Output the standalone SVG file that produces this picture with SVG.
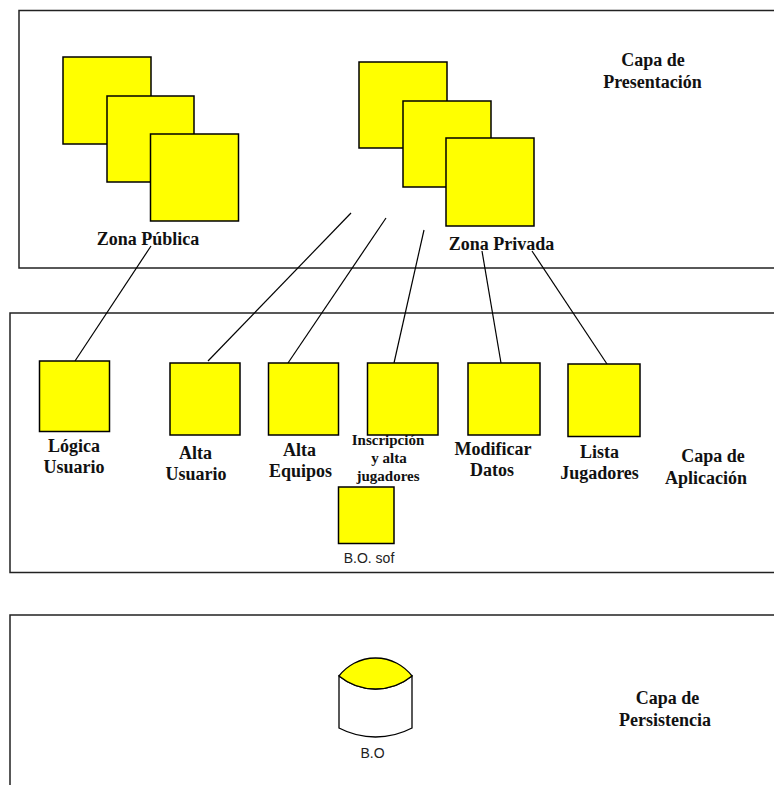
<svg xmlns="http://www.w3.org/2000/svg" width="774" height="785" viewBox="0 0 774 785">
<style>
.layer{fill:none;stroke:#222;stroke-width:1.5}
.box{fill:#ffff00;stroke:#000;stroke-width:1.5}
.lbl{font-family:"Liberation Serif","Times New Roman",serif;font-weight:bold;font-size:18px;fill:#111;text-anchor:middle}
.sm{font-size:15px}
.sans{font-family:"Liberation Sans",Arial,sans-serif;font-size:14px;fill:#222;text-anchor:middle}
.conn{stroke:#000;stroke-width:1.2;fill:none}
</style>
<rect width="774" height="785" fill="#fff"/>
<g id="layers">
<rect class="layer" x="19" y="10.5" width="800" height="257.5"/>
<rect class="layer" x="10" y="313" width="800" height="259.5"/>
<rect class="layer" x="10" y="615" width="800" height="200"/>
</g>
<g id="connectors">
<line class="conn" x1="151" y1="246" x2="75" y2="361"/>
<line class="conn" x1="351" y1="213" x2="208" y2="361"/>
<line class="conn" x1="386" y1="218" x2="288" y2="363"/>
<line class="conn" x1="424" y1="230" x2="394" y2="363"/>
<line class="conn" x1="482" y1="251" x2="501" y2="363"/>
<line class="conn" x1="532" y1="251" x2="607" y2="364"/>
</g>
<g id="zona-publica">
<rect class="box" x="63" y="57" width="88" height="87"/>
<rect class="box" x="107" y="96" width="87" height="86"/>
<rect class="box" x="150.5" y="134" width="88" height="87"/>
<text class="lbl" x="148" y="245">Zona Pública</text>
</g>
<g id="zona-privada">
<rect class="box" x="359" y="62" width="88" height="86"/>
<rect class="box" x="403" y="101" width="88" height="86"/>
<rect class="box" x="446" y="138" width="88" height="88"/>
<text class="lbl" x="501.5" y="249.5">Zona Privada</text>
</g>
<g id="capa-presentacion">
<text class="lbl" x="653" y="66">Capa de</text>
<text class="lbl" x="652.5" y="88">Presentación</text>
</g>
<g id="logica-usuario">
<rect class="box" x="39.5" y="361" width="70" height="70.5"/>
<text class="lbl" x="74" y="452">Lógica</text>
<text class="lbl" x="74" y="473">Usuario</text>
</g>
<g id="alta-usuario">
<rect class="box" x="170" y="363" width="70" height="72"/>
<text class="lbl" x="195.5" y="459">Alta</text>
<text class="lbl" x="196" y="480">Usuario</text>
</g>
<g id="alta-equipos">
<rect class="box" x="268.5" y="363" width="70" height="72"/>
<text class="lbl" x="299.5" y="456">Alta</text>
<text class="lbl" x="300.5" y="477">Equipos</text>
</g>
<g id="inscripcion">
<rect class="box" x="367.5" y="363" width="70.5" height="72"/>
<text class="lbl sm" x="388" y="445">Inscripción</text>
<text class="lbl sm" x="389" y="463">y alta</text>
<text class="lbl sm" x="388" y="481">jugadores</text>
</g>
<g id="modificar-datos">
<rect class="box" x="468" y="363" width="72" height="72"/>
<text class="lbl" x="493" y="455">Modificar</text>
<text class="lbl" x="492" y="476">Datos</text>
</g>
<g id="lista-jugadores">
<rect class="box" x="568" y="364" width="72" height="72.5"/>
<text class="lbl" x="599.5" y="458">Lista</text>
<text class="lbl" x="599.5" y="479">Jugadores</text>
</g>
<g id="bo-sof">
<rect class="box" x="338.5" y="487" width="55.5" height="56.5"/>
<text class="sans" x="369" y="563">B.O. sof</text>
</g>
<g id="capa-aplicacion">
<text class="lbl" x="713" y="462">Capa de</text>
<text class="lbl" x="706" y="484">Aplicación</text>
</g>
<g id="bd">
<path d="M339,676 A57.7,57.7 0 0 0 412,676 L412,728 A78.5,78.5 0 0 1 339,728 Z" fill="#fff" stroke="#000" stroke-width="1.3"/>
<path d="M339,676 A46,46 0 0 1 412,676 A57.7,57.7 0 0 1 339,676 Z" fill="#ffff00" stroke="#000" stroke-width="1.3"/>
<text class="sans" x="372.5" y="758">B.O</text>
</g>
<g id="capa-persistencia">
<text class="lbl" x="667.5" y="704">Capa de</text>
<text class="lbl" x="665" y="726">Persistencia</text>
</g>
</svg>
